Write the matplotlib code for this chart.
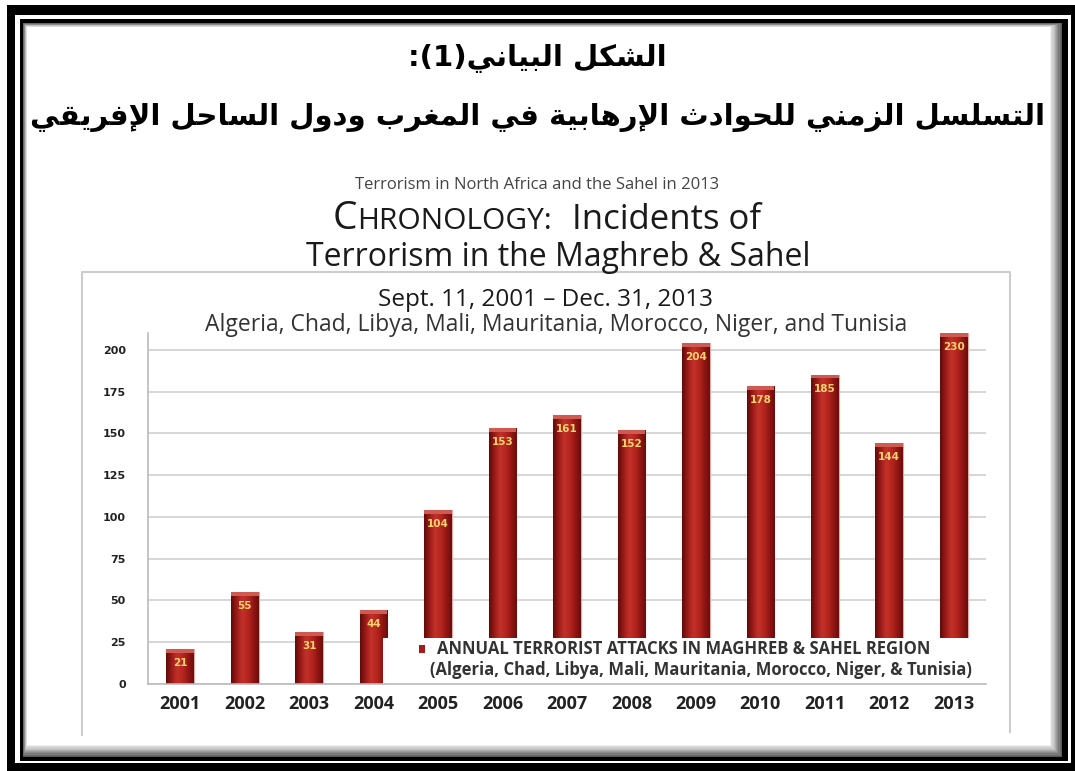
import re
import numpy as np
import matplotlib
matplotlib.use("Agg")
import matplotlib.pyplot as plt
from matplotlib.patches import Rectangle
from matplotlib.colors import LinearSegmentedColormap

# ---- data ----
years = ["2001", "2002", "2003", "2004", "2005", "2006", "2007",
         "2008", "2009", "2010", "2011", "2012", "2013"]
attacks = [21, 55, 31, 44, 104, 153, 161, 152, 204, 178, 185, 144, 230]
y_ticks = [0, 25, 50, 75, 100, 125, 150, 175, 200]

ar_title1 = "الشكل البياني(1):"
ar_title2 = "التسلسل الزمني للحوادث الإرهابية في المغرب ودول الساحل الإفريقي"
top_note = "Terrorism in North Africa and the Sahel in 2013"
title_line1 = ("C", "HRONOLOGY:", "Incidents of")
title_line2 = "Terrorism in the Maghreb & Sahel"
period = "Sept. 11, 2001 \u2013 Dec. 31, 2013"
countries = "Algeria, Chad, Libya, Mali, Mauritania, Morocco, Niger, and Tunisia"
legend_line1 = "ANNUAL TERRORIST ATTACKS IN MAGHREB & SAHEL REGION"
legend_line2 = "(Algeria, Chad, Libya, Mali, Mauritania, Morocco, Niger, & Tunisia)"

# ---- tiny arabic shaper (matplotlib does no shaping / bidi) ----
DUAL = {'ب': 0xFE8F, 'ت': 0xFE95, 'ث': 0xFE99, 'ح': 0xFEA1, 'س': 0xFEB1,
        'ش': 0xFEB5, 'غ': 0xFECD, 'ف': 0xFED1, 'ق': 0xFED5, 'ك': 0xFED9,
        'ل': 0xFEDD, 'م': 0xFEE1, 'ن': 0xFEE5, 'ه': 0xFEE9, 'ي': 0xFEF1}
RIGHT = {'ا': 0xFE8D, 'إ': 0xFE87, 'ة': 0xFE93, 'د': 0xFEA9, 'ر': 0xFEAD,
         'ز': 0xFEAF, 'و': 0xFEED}
LAM_ALEF = {'ا': 0xFEFB, 'إ': 0xFEF9}


def shape_arabic(text):
    units = []
    i = 0
    while i < len(text):
        if text[i] == 'ل' and i + 1 < len(text) and text[i + 1] in LAM_ALEF:
            units.append(("la", text[i + 1]))
            i += 2
        else:
            units.append(("ch", text[i]))
            i += 1

    def is_ar(u):
        return u[0] == "la" or u[1] in DUAL or u[1] in RIGHT

    def joins_next(u):
        return u[0] == "ch" and u[1] in DUAL

    out = []
    for k, u in enumerate(units):
        if not is_ar(u):
            out.append(u[1])
            continue
        p = k > 0 and joins_next(units[k - 1])
        n = joins_next(u) and k + 1 < len(units) and is_ar(units[k + 1])
        if u[0] == "la":
            out.append(chr(LAM_ALEF[u[1]] + int(p)))
        elif u[1] in RIGHT:
            out.append(chr(RIGHT[u[1]] + int(p)))
        else:
            idx = 3 if (p and n) else 1 if p else 2 if n else 0
            out.append(chr(DUAL[u[1]] + idx))
    return "".join(out)


def rtl(text):
    s = shape_arabic(text)[::-1]
    s = s.translate(str.maketrans("()", ")("))
    return re.sub(r"\d+", lambda m: m.group()[::-1], s)


W, H = 1075, 771
fig = plt.figure(figsize=(W / 100, H / 100), dpi=100)
fig.patch.set_facecolor("white")

# background axes in pixel coords for frame + titles
bg = fig.add_axes([0, 0, 1, 1])
bg.set_xlim(0, W)
bg.set_ylim(H, 0)
bg.axis("off")


def box(x0, y0, x1, y1, color, z):
    bg.add_patch(Rectangle((x0, y0), x1 - x0, y1 - y0, facecolor=color,
                           edgecolor="none", zorder=z))


box(7, 5, W + 5, H + 5, "black", 1)
box(15, 15, 1071, 763, "white", 2)
box(20, 19, 1068, 761, "black", 3)
for k in range(10):
    g = 0.35 + 0.065 * k
    box(23 + k * 0.4, 23 + k * 0.4, 1062 - k * 1.2, 757 - k * 1.2, str(min(g, 1.0)), 4 + k)
box(27, 27, 1050, 745, "white", 15)

# chart frame (light gray, open at bottom)
bg.plot([82, 82, 1010, 1010], [735, 272, 272, 732], color="#cccccc", lw=1.5, zorder=16)

ar_font = "DejaVu Sans"
bg.text(537, 58, rtl(ar_title1), ha="center", va="center", fontsize=21,
        fontweight="bold", family=ar_font, zorder=20)
bg.text(538, 117, rtl(ar_title2), ha="center", va="center", fontsize=21,
        fontweight="bold", family=ar_font, zorder=20)

en_font = "Open Sans"
ink = "#1a1a1a"
bg.text(537, 185, top_note, ha="center", va="center", fontsize=12,
        family=en_font, color="#444444", zorder=20)
t1 = bg.text(333, 229, title_line1[0], ha="left", va="baseline", fontsize=28,
             family=en_font, color=ink, zorder=20)
t2 = bg.annotate(title_line1[1], xy=(1.0, 229), xycoords=(t1, "data"),
                 ha="left", va="baseline", fontsize=21.5, family=en_font,
                 color=ink, zorder=20)
bg.annotate(title_line1[2], xy=(1.0, 229), xycoords=(t2, "data"),
            xytext=(14, 0), textcoords="offset points",
            ha="left", va="baseline", fontsize=25, family=en_font,
            color=ink, zorder=20)
bg.text(558, 257, title_line2, ha="center", va="center", fontsize=23,
        family=en_font, color=ink, zorder=20)
bg.text(545, 306, period, ha="center", va="baseline", fontsize=17.5,
        family=en_font, color=ink, zorder=20)
bg.text(556, 331, countries, ha="center", va="baseline", fontsize=16.5,
        family=en_font, color="#333333", zorder=20)

# ---- the bar chart ----
ax = fig.add_axes([148 / W, 1 - 684 / H, (986 - 148) / W, (684 - 333) / H])
ax.set_zorder(30)
ax.patch.set_alpha(0)
top = 210
bw = 0.43
x = np.arange(len(years))
bars = ax.bar(x, attacks, width=bw, color="#a41c1a", edgecolor="#e6a9a6",
              linewidth=0.8, zorder=2)

cyl = LinearSegmentedColormap.from_list(
    "cyl", ["#5e0b0b", "#9c1b18", "#c2312b", "#b6261f", "#941714", "#6a0e0d"])
grad = np.linspace(0, 1, 64).reshape(1, -1)
for b in bars:
    # set_clip_path with a Rectangle replaces the axes clip box, so cap the extent
    im = ax.imshow(grad, extent=[b.get_x(), b.get_x() + b.get_width(), 0,
                                 min(b.get_height(), top)],
                   cmap=cyl, aspect="auto", interpolation="bicubic", zorder=3)
    im.set_clip_path(b)

for i, v in enumerate(attacks):
    tv = min(v, top)
    ax.bar(i, 2.2, bottom=tv - 2.2, width=bw, color="#cf5a52", zorder=4)
    ax.annotate(str(v), xy=(i, tv), xytext=(0, -10), textcoords="offset points",
                ha="center", va="center", fontsize=7.5, fontweight="bold",
                color="#f6d56c", zorder=5)

ax.set_xlim(-0.5, 12.5)
ax.set_ylim(0, top)
ax.set_xticks(x)
ax.set_xticklabels(years, fontsize=13, fontweight="bold", family=en_font, color="#222222")
ax.set_yticks(y_ticks)
ax.set_yticklabels([str(t) for t in y_ticks], fontsize=8, fontweight="bold",
                   family="DejaVu Sans", color="#222222")
ax.tick_params(axis="both", length=0)
ax.tick_params(axis="y", pad=16)
ax.tick_params(axis="x", pad=8)
ax.yaxis.grid(True, color="#cfcfcf", lw=1.2)
ax.set_axisbelow(True)
for s in ["top", "right"]:
    ax.spines[s].set_visible(False)
for s in ["left", "bottom"]:
    ax.spines[s].set_color("#bbbbbb")
    ax.spines[s].set_linewidth(1.2)
    ax.spines[s].set_zorder(8)

# legend drawn by hand: white box over the lower bars
ax.add_patch(Rectangle((0.281, 0.0), 0.72, 0.131, transform=ax.transAxes,
                       facecolor="white", edgecolor="none", zorder=6, clip_on=False))
ax.add_patch(Rectangle((0.323, 0.088), 0.008, 0.022, transform=ax.transAxes,
                       facecolor="#a41c1a", edgecolor="none", zorder=7))
ax.text(0.345, 0.0997, legend_line1, transform=ax.transAxes, ha="left", va="center",
        fontsize=12, fontweight="bold", family=en_font, color="#333333", zorder=7)
ax.text(0.337, 0.040, legend_line2, transform=ax.transAxes, ha="left", va="center",
        fontsize=12, fontweight="bold", family=en_font, color="#333333", zorder=7)

fig.savefig("out.png", dpi=100)
